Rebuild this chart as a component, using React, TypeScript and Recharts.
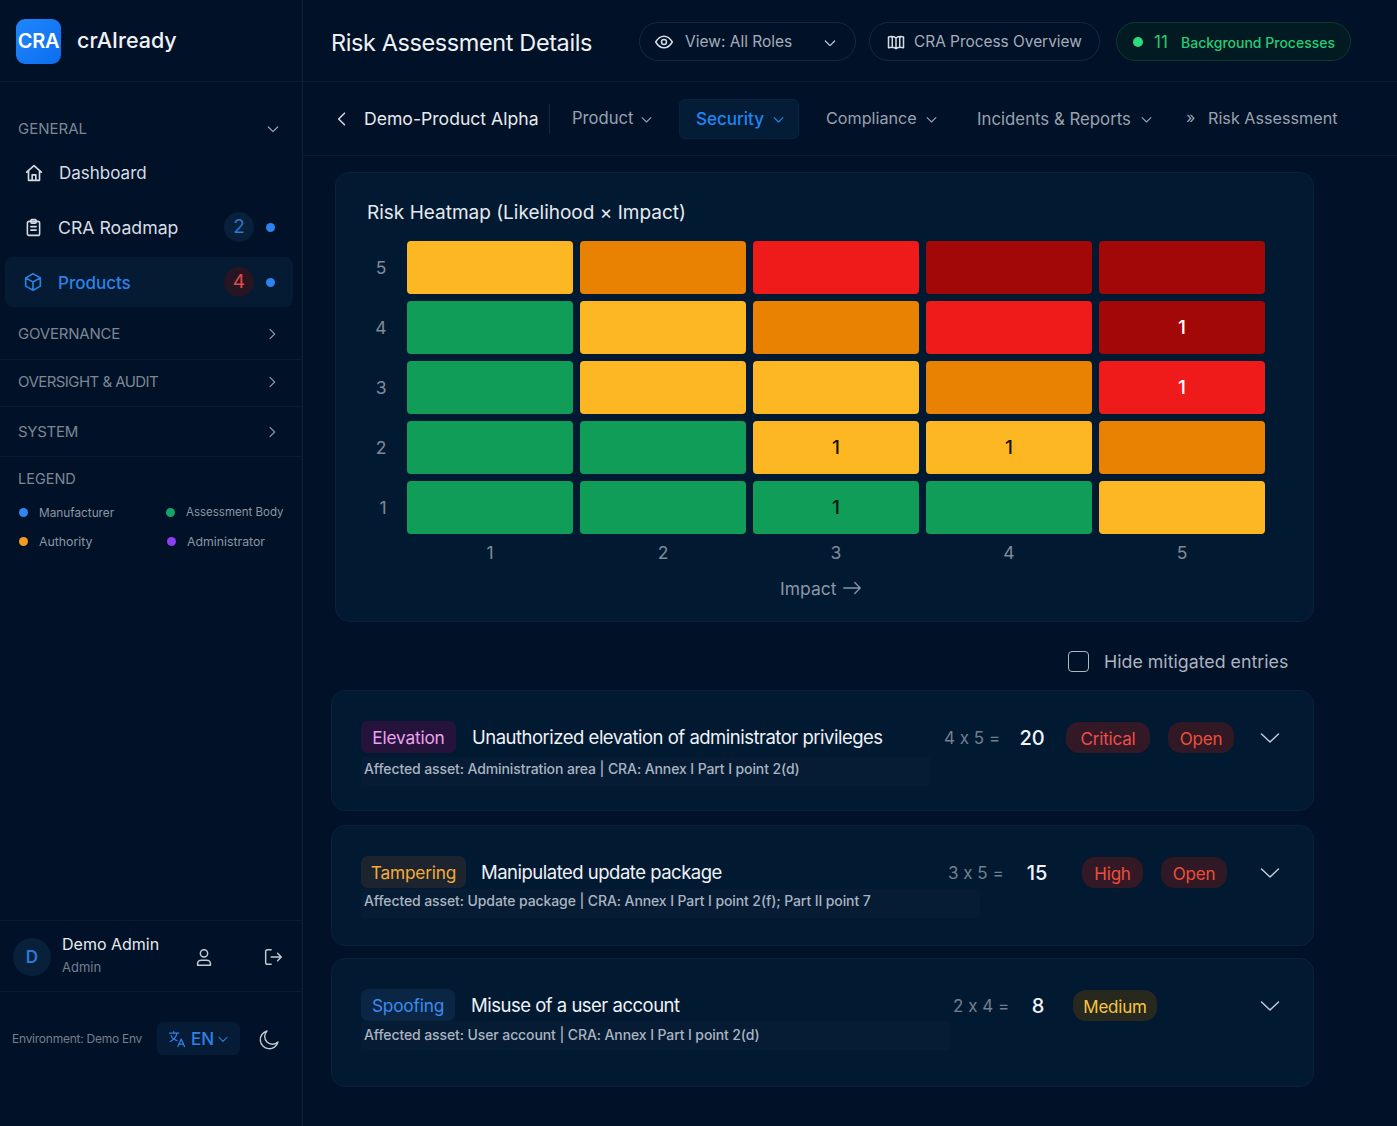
import React from "react";
import { Scatter, ScatterChart, XAxis, YAxis } from "recharts";

// heatmap values, rows go likelihood 5 -> 1
const likelihoods = [5, 4, 3, 2, 1];
const impacts = [1, 2, 3, 4, 5];
const levels = [
  ["medium", "high", "severe", "critical", "critical"],
  ["low", "medium", "high", "severe", "critical"],
  ["low", "medium", "medium", "high", "severe"],
  ["low", "low", "medium", "medium", "high"],
  ["low", "low", "low", "low", "medium"],
];
const counts = [
  [0, 0, 0, 0, 0],
  [0, 0, 0, 0, 1],
  [0, 0, 0, 0, 1],
  [0, 0, 1, 1, 0],
  [0, 0, 1, 0, 0],
];

const levelColors: Record<string, string> = {
  low: "#0f9d58",
  medium: "#fcb722",
  high: "#e98103",
  severe: "#ef1b1b",
  critical: "#a30808",
};
const countColors: Record<string, string> = {
  low: "#04170e",
  medium: "#1a1204",
  high: "#1a1204",
  severe: "#ffffff",
  critical: "#ffffff",
};

const heatCells = likelihoods.flatMap((likelihood, r) =>
  impacts.map((impact, c) => ({
    impact,
    likelihood,
    level: levels[r][c],
    count: counts[r][c],
  }))
);

const FONT = "Inter, 'Noto Sans', sans-serif";

function T({ x, y, size = 16, color = "#c9d1dc", weight = 400, center = false, spacing = 0, children }: any) {
  return (
    <div
      style={{
        position: "absolute",
        left: x,
        top: y,
        transform: center ? "translate(-50%, -50%)" : "translateY(-50%)",
        fontSize: size,
        color,
        fontWeight: weight,
        letterSpacing: spacing,
        whiteSpace: "nowrap",
        lineHeight: 1.2,
        fontFeatureSettings: '"calt" 0',
      }}
    >
      {children}
    </div>
  );
}

function Box({ x, y, w, h, bg = "transparent", border, radius = 0 }: any) {
  return (
    <div
      style={{
        position: "absolute",
        left: x,
        top: y,
        width: w,
        height: h,
        background: bg,
        border: border ? `1px solid ${border}` : undefined,
        borderRadius: radius,
        boxSizing: "border-box",
      }}
    />
  );
}

function Icon({ x, y, size = 20, color = "#d5dbe4", width = 1.8, children }: any) {
  return (
    <svg
      style={{ position: "absolute", left: x, top: y }}
      width={size}
      height={size}
      viewBox="0 0 24 24"
      fill="none"
      stroke={color}
      strokeWidth={width}
      strokeLinecap="round"
      strokeLinejoin="round"
    >
      {children}
    </svg>
  );
}

const Down = ({ x, y, size = 16, color = "#9aa5b4" }: any) => (
  <Icon x={x} y={y} size={size} color={color}>
    <path d="M5 9l7 7 7-7" />
  </Icon>
);
const Right = ({ x, y }: any) => (
  <Icon x={x} y={y} size={16} color="#8b96a5">
    <path d="M9 5l7 7-7 7" />
  </Icon>
);

function HeatCell(props: any) {
  const { cx, cy, payload } = props;
  const w = 166;
  const h = 53;
  return (
    <g>
      <rect x={cx - w / 2} y={cy - h / 2} width={w} height={h} rx={4} fill={levelColors[payload.level]} />
      {payload.count > 0 && (
        <text
          x={cx}
          y={cy}
          dy={6.5}
          textAnchor="middle"
          fontSize={19}
          fontWeight={500}
          fontFamily={FONT}
          fill={countColors[payload.level]}
        >
          {payload.count}
        </text>
      )}
    </g>
  );
}

function Heatmap() {
  const tick = { fill: "#7f8a99", fontSize: 17.5, fontFamily: FONT };
  return (
    <ScatterChart width={960} height={390} margin={{ top: 17.5, right: 31.5, bottom: 42.5, left: 33.5 }}>
      <XAxis
        type="number"
        dataKey="impact"
        domain={[0.5, 5.5]}
        ticks={impacts}
        height={30}
        tickLine={false}
        axisLine={false}
        tick={tick}
        tickMargin={3}
        interval={0}
      />
      <YAxis
        type="number"
        dataKey="likelihood"
        domain={[0.5, 5.5]}
        ticks={likelihoods}
        width={30}
        tickLine={false}
        axisLine={false}
        tick={tick}
        tickMargin={11}
        interval={0}
      />
      <Scatter data={heatCells} shape={HeatCell} isAnimationActive={false} />
    </ScatterChart>
  );
}

function RiskCard({ y, h, chip, chipW, chipBg, chipColor, title, titleX, calc, calcX, score, scoreX, sub, subY, subTextY, subW, badges }: any) {
  const rowY = y + 48;
  return (
    <>
      <Box x={331} y={y} w={983} h={h} bg="#021932" border="#0a2139" radius={14} />
      <Box x={361} y={y + 31} w={chipW} h={32} bg={chipBg} radius={7} />
      <T x={361 + chipW / 2} y={rowY} size={17.3} color={chipColor} center spacing={-0.2}>{chip}</T>
      <T x={titleX} y={rowY - 1} size={18.5} color="#eef2f6" spacing={-0.5}>{title}</T>
      <T x={calcX} y={rowY} size={17} color="#737f8e">{calc}</T>
      <T x={scoreX} y={rowY} size={20} color="#f1f4f7" weight={500} center>{score}</T>
      <Box x={361} y={subY} w={subW} h={29} bg="#061c34" radius={2} />
      <T x={364} y={subTextY} size={14} color="#aab4c0" weight={500} spacing={-0.1}>{sub}</T>
      {badges.map((b: any) => (
        <React.Fragment key={b.label}>
          <Box x={b.x} y={y + 32} w={b.w} h={31} bg={b.bg} radius={13} />
          <T x={b.x + b.w / 2} y={y + 48.5} size={17} color={b.color} center spacing={-0.2}>{b.label}</T>
        </React.Fragment>
      ))}
      <Icon x={1258} y={rowY - 12} size={24} color="#c3cad4" width={1.5}>
        <path d="M3.5 8L12 16l8.5-8" />
      </Icon>
    </>
  );
}

export default function App() {
  const badRed = "#301824";
  const sectionColor = "#7d8794";
  const tabColor = "#98a2af";
  return (
    <div
      style={{
        position: "fixed",
        left: 0,
        top: 0,
        width: 1397,
        height: 1126,
        overflow: "hidden",
        background: "#011128",
        fontFamily: FONT,
      }}
    >
      {/* frame lines */}
      <Box x={302} y={0} w={1} h={1126} bg="#0f2036" />
      <Box x={0} y={81} w={1397} h={1} bg="#0b1c31" />
      <Box x={303} y={155} w={1094} h={1} bg="#0b1c31" />

      {/* sidebar head */}
      <div
        style={{
          position: "absolute",
          left: 16,
          top: 19,
          width: 45,
          height: 45,
          borderRadius: 9,
          background: "linear-gradient(135deg,#1f86fb,#0d6ef0)",
          color: "#fff",
          fontSize: 20,
          fontWeight: 600,
          textAlign: "center",
          lineHeight: "45px",
          letterSpacing: -0.3,
        }}
      >
        CRA
      </div>
      <T x={77} y={41} size={21.5} color="#eef1f5" weight={500}>crAIready</T>

      <T x={18} y={129} size={15} color={sectionColor}>GENERAL</T>
      <Down x={265} y={121} />

      <Icon x={23} y={162} size={22}>
        <path d="M4 11l8-7 8 7M6 9.5V20h12V9.5M10 20v-6h4v6" />
      </Icon>
      <T x={59} y={173} size={17} color="#d7dde5">Dashboard</T>

      <Icon x={23} y={217} size={21}>
        <rect x="5" y="5" width="14" height="16" rx="2" />
        <rect x="9" y="3" width="6" height="4" rx="1" />
        <path d="M9 11h6M9 15h6" />
      </Icon>
      <T x={58} y={228} size={17.7} color="#d7dde5">CRA Roadmap</T>
      <Box x={224} y={212} w={30} h={30} bg="#08203a" radius={15} />
      <T x={239} y={227} size={19} color="#2d78d8" center>2</T>
      <Box x={266} y={223} w={9} h={9} bg="#2b82f0" radius={5} />

      <Box x={5} y={257} w={288} h={50} bg="#041b33" radius={8} />
      <Icon x={22} y={271} size={22} color="#2d7fe0">
        <path d="M12 3l8 4.5v9L12 21l-8-4.5v-9zM4 7.5l8 4.5 8-4.5M12 12v9" />
      </Icon>
      <T x={58} y={283} size={17} color="#2f82e6" weight={500}>Products</T>
      <Box x={224} y={267} w={30} h={30} bg="#271622" radius={15} />
      <T x={239} y={282} size={19} color="#e04a48" center>4</T>
      <Box x={266} y={278} w={9} h={9} bg="#2b82f0" radius={5} />

      <T x={18} y={334} size={15} color={sectionColor} spacing={-0.2}>GOVERNANCE</T>
      <Right x={264} y={326} />
      <Box x={0} y={359} w={302} h={1} bg="#0a1b2f" />
      <T x={18} y={382} size={15} color={sectionColor} spacing={-0.55}>OVERSIGHT &amp; AUDIT</T>
      <Right x={264} y={374} />
      <Box x={0} y={406} w={302} h={1} bg="#0a1b2f" />
      <T x={18} y={432} size={15} color={sectionColor} spacing={-0.3}>SYSTEM</T>
      <Right x={264} y={424} />
      <Box x={0} y={456} w={302} h={1} bg="#0a1b2f" />

      <T x={18} y={479} size={14.5} color={sectionColor}>LEGEND</T>
      <Box x={19} y={508} w={9} h={9} bg="#2f86f6" radius={5} />
      <T x={39} y={513} size={11.8} color="#8c96a3">Manufacturer</T>
      <Box x={166} y={508} w={9} h={9} bg="#12a66a" radius={5} />
      <T x={186} y={513} size={11.5} color="#8c96a3">Assessment Body</T>
      <Box x={19} y={537} w={9} h={9} bg="#f59a23" radius={5} />
      <T x={39} y={542} size={12.3} color="#8c96a3">Authority</T>
      <Box x={167} y={537} w={9} h={9} bg="#8b3ff0" radius={5} />
      <T x={187} y={542} size={12.3} color="#8c96a3">Administrator</T>

      <Box x={0} y={920} w={302} h={1} bg="#0a1b2f" />
      <Box x={0} y={991} w={302} h={1} bg="#0a1b2f" />
      <Box x={13} y={938} w={38} h={38} bg="#08203a" radius={19} />
      <T x={32} y={957} size={17} color="#2d78d8" weight={600} center>D</T>
      <T x={62} y={945} size={16} color="#e6eaef">Demo Admin</T>
      <T x={62} y={968} size={13} color="#747f8d">Admin</T>
      <Icon x={193} y={946} size={22} color="#c3cad4" width={1.6}>
        <circle cx="12" cy="8" r="4" />
        <path d="M5 21v-2c0-2 2-3.5 4-3.5h6c2 0 4 1.5 4 3.5v2z" />
      </Icon>
      <Icon x={262} y={946} size={22} color="#c3cad4" width={1.6}>
        <path d="M10 4H6a2 2 0 00-2 2v12a2 2 0 002 2h4M10 12h11M17 8l4 4-4 4" />
      </Icon>
      <T x={12} y={1039} size={12} color="#767f8c" spacing={-0.25}>Environment: Demo Env</T>
      <Box x={157} y={1022} w={83} h={33} bg="#061c36" radius={6} />
      <Icon x={167} y={1029} size={20} color="#2f82e6" width={1.5}>
        <path d="M3 5h11M8 3v2M12 5c-1 5-4 8-8 10M5 8c1 3 4 5 7 6M13 21l4-9 4 9M14.5 18h5" />
      </Icon>
      <T x={191} y={1039} size={17} color="#2f82e6" weight={500}>EN</T>
      <Down x={216} y={1032} size={14} color="#2f82e6" />
      <Icon x={258} y={1027} size={24} color="#c3cad4" width={1.4}>
        <path d="M20 15A9 9 0 119 4a7.5 7.5 0 0011 11z" />
      </Icon>

      {/* top bar */}
      <T x={331} y={42.5} size={23.5} color="#eef1f5" spacing={-0.4}>Risk Assessment Details</T>

      <Box x={639} y={22} w={217} h={39} border="#18283c" radius={20} />
      <Icon x={654} y={32} size={20}>
        <path d="M2 12c3-5 6-7 10-7s7 2 10 7c-3 5-6 7-10 7s-7-2-10-7z" />
        <circle cx="12" cy="12" r="3" />
      </Icon>
      <T x={685} y={42} size={15.5} color="#a3adba">View: All Roles</T>
      <Down x={822} y={35} color="#c3cad4" />

      <Box x={869} y={22} w={231} h={39} border="#18283c" radius={20} />
      <Icon x={886} y={32} size={20}>
        <path d="M3 6c3-1 6-1 9 1 3-2 6-2 9-1v13c-3-1-6-1-9 1-3-2-6-2-9-1zM12 7v13M7.5 6v13M16.5 6v13" />
      </Icon>
      <T x={914} y={42} size={15.4} color="#a3adba">CRA Process Overview</T>

      <Box x={1116} y={22} w={235} h={39} bg="#021a22" border="#0c3a2c" radius={20} />
      <Box x={1133} y={37} w={10} h={10} bg="#2ddb7f" radius={5} />
      <T x={1154} y={42} size={17} color="#27cc75">11</T>
      <T x={1181} y={42.5} size={14} color="#27cc75" weight={500}>Background Processes</T>

      {/* tab row */}
      <Icon x={332} y={109} size={20} color="#d5dbe4">
        <path d="M15 5l-7 7 7 7" />
      </Icon>
      <T x={364} y={118.5} size={17.6} color="#e6eaef">Demo-Product Alpha</T>
      <Box x={549} y={104} w={1} h={30} bg="#16263a" />
      <T x={572} y={119} size={16.6} color={tabColor}>Product</T>
      <Down x={639} y={112} size={15} color={tabColor} />
      <T x={826} y={119} size={16.2} color={tabColor}>Compliance</T>
      <Down x={924} y={112} size={15} color={tabColor} />
      <T x={977} y={119} size={16.8} color={tabColor}>Incidents &amp; Reports</T>
      <Down x={1139} y={112} size={15} color={tabColor} />
      <Box x={679} y={99} w={120} h={40} bg="#041c36" border="#082340" radius={6} />
      <T x={696} y={119} size={17} color="#2086f0" weight={500}>Security</T>
      <Down x={771} y={112} size={15} color="#2086f0" />
      <T x={1186} y={118} size={16} color={tabColor}>»</T>
      <T x={1208} y={119} size={16.2} color={tabColor}>Risk Assessment</T>

      {/* heatmap */}
      <Box x={335} y={172} w={979} h={450} bg="#021932" border="#0a2139" radius={14} />
      <T x={367} y={213} size={19} color="#e6eaef">Risk Heatmap (Likelihood × Impact)</T>
      <div style={{ position: "absolute", left: 340, top: 220 }}>
        <Heatmap />
      </div>
      <T x={780} y={588} size={17.5} color="#8b96a5">Impact</T>
      <Icon x={841} y={577} size={22} color="#8b96a5" width={1.4}>
        <path d="M3 12h18M15 6l6 6-6 6" />
      </Icon>

      <Box x={1068} y={651} w={21} h={21} border="#aeb6c2" radius={4} />
      <T x={1104} y={662} size={17.8} color="#aab3bf">Hide mitigated entries</T>

      {/* risk list */}
      <RiskCard
        y={690}
        h={121}
        chip="Elevation"
        chipW={95}
        chipBg="#26133c"
        chipColor="#eca2ee"
        title="Unauthorized elevation of administrator privileges"
        titleX={472}
        calc="4 x 5 ="
        calcX={944}
        score="20"
        scoreX={1032}
        sub="Affected asset: Administration area | CRA: Annex I Part I point 2(d)"
        subY={757}
        subTextY={769}
        subW={569}
        badges={[
          { label: "Critical", x: 1066, w: 84, bg: "#331826", color: "#ee4f4a" },
          { label: "Open", x: 1168, w: 66, bg: badRed, color: "#ee4f3a" },
        ]}
      />
      <RiskCard
        y={825}
        h={121}
        chip="Tampering"
        chipW={105}
        chipBg="#1c2430"
        chipColor="#f4ac36"
        title="Manipulated update package"
        titleX={481}
        calc="3 x 5 ="
        calcX={948}
        score="15"
        scoreX={1037}
        sub="Affected asset: Update package | CRA: Annex I Part I point 2(f); Part II point 7"
        subY={889}
        subTextY={901}
        subW={619}
        badges={[
          { label: "High", x: 1082, w: 61, bg: "#331826", color: "#ee4f3a" },
          { label: "Open", x: 1161, w: 66, bg: badRed, color: "#ee4f3a" },
        ]}
      />
      <RiskCard
        y={958}
        h={129}
        chip="Spoofing"
        chipW={94}
        chipBg="#0a2644"
        chipColor="#3b8cf0"
        title="Misuse of a user account"
        titleX={471}
        calc="2 x 4 ="
        calcX={953}
        score="8"
        scoreX={1038}
        sub="Affected asset: User account | CRA: Annex I Part I point 2(d)"
        subY={1021}
        subTextY={1035}
        subW={589}
        badges={[{ label: "Medium", x: 1073, w: 84, bg: "#27281e", color: "#f6c544" }]}
      />
    </div>
  );
}
